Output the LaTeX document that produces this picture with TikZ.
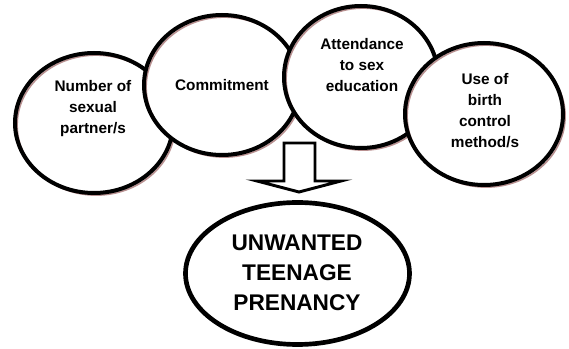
\documentclass[tikz,border=0pt]{standalone}
\usepackage{fontspec}
\setmainfont{Liberation Sans}
\usetikzlibrary{shapes.geometric}
\definecolor{shadowc}{RGB}{185,145,145}
\begin{document}
\begin{tikzpicture}[x=0.75pt,y=-0.75pt,
  ell/.style={ellipse, draw=black, line width=3pt, inner sep=0pt,
    preaction={fill=white},
    preaction={draw=shadowc, line width=1.2pt, transform canvas={shift={(1.6pt,-1.6pt)}}}},
  bigell/.style={ellipse, draw=black, line width=3.5pt, fill=white, inner sep=0pt},
  lbl/.style={align=center, font=\bfseries\fontsize{11.5}{15.75}\selectfont, inner sep=0pt},
  biglbl/.style={align=center, font=\bfseries\fontsize{17}{22.5}\selectfont, inner sep=0pt},
  blockarrow/.style={draw=black, fill=white, line width=2.2pt, line join=miter}
]
\useasboundingbox (0,0) rectangle (569,349);
\node[ell, minimum width=118.5pt, minimum height=105pt] (e1) at (94,123) {};
\node[ell, minimum width=117pt, minimum height=105pt] (e2) at (222,85) {};
\node[ell, minimum width=115.5pt, minimum height=106.5pt] (e3) at (361,77) {};
\node[ell, minimum width=118.5pt, minimum height=106.5pt] (e4) at (484,114) {};
\node[bigell, minimum width=168pt, minimum height=106.5pt] (e5) at (297.5,273.5) {};

\node[lbl] (t1) at (93,109) {Number of\\sexual\\partner/s};
\node[lbl] (t2) at (222,85) {Commitment};
\node[lbl] (t3) at (362,65) {Attendance\\to sex\\education};
\node[lbl] (t4) at (485,111) {Use of\\birth\\control\\method/s};
\node[biglbl] (t5) at (297,273) {UNWANTED\\TEENAGE\\PRENANCY};

\coordinate (tip) at (299,192);
\draw[blockarrow] (284,143) -- (315,143) -- (315,181) -- (341,181) -- (tip)
  -- (257,181) -- (284,181) -- cycle;
\end{tikzpicture}
\end{document}
